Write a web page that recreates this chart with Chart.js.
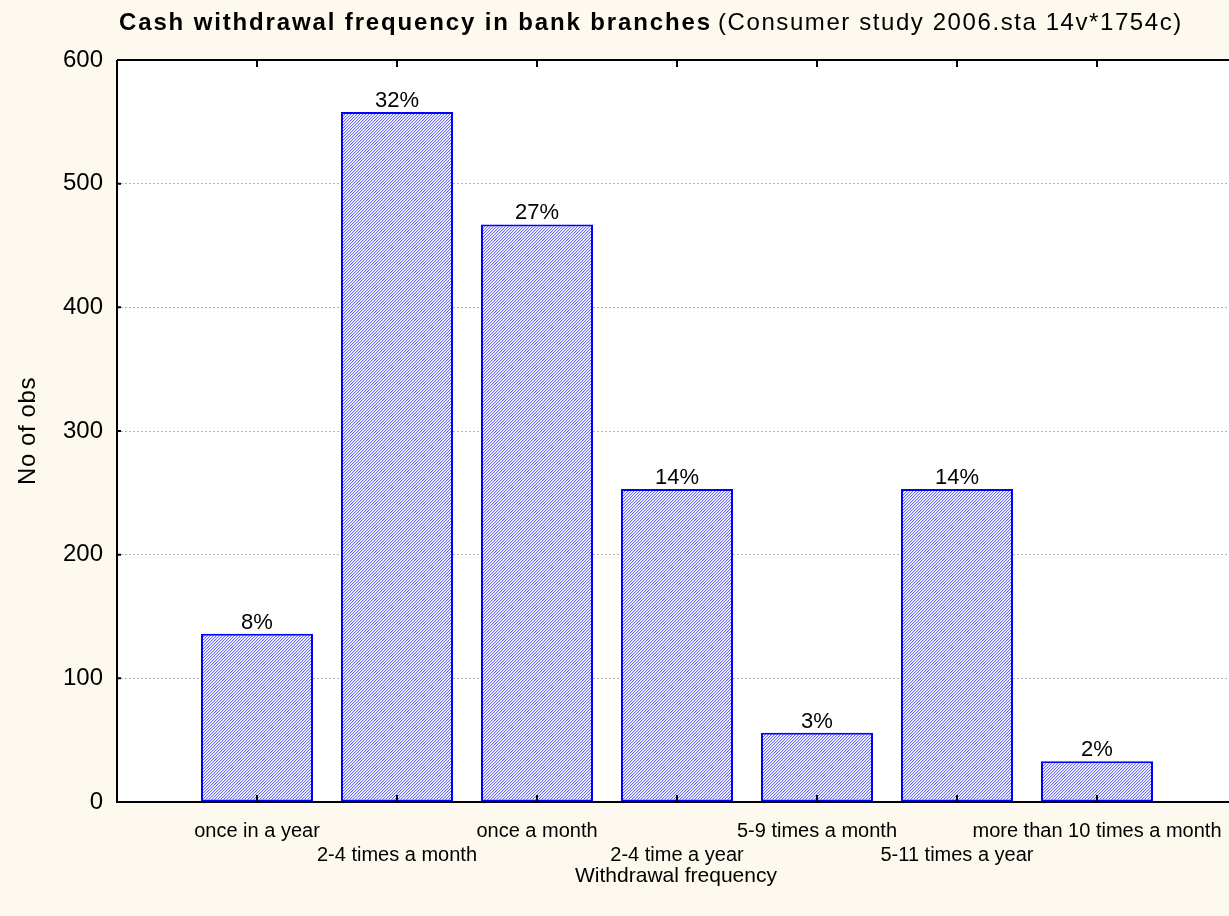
<!DOCTYPE html>
<html>
<head>
<meta charset="utf-8">
<script src="https://cdn.jsdelivr.net/npm/chart.js@4.4.0/dist/chart.umd.min.js"></script>
<style>
  html, body { margin: 0; padding: 0; overflow: hidden; background: #fdf9ee; }
  #wrap { position: absolute; left: 0; top: 0; }
</style>
</head>
<body>
<div id="wrap"><canvas id="freqChart" width="1240" height="916"></canvas></div>
<script>
// Chart data
const categories = ['once in a year', '2-4 times a month', 'once a month', '2-4 time a year',
    '5-9 times a month', '5-11 times a year', 'more than 10 times a month'];
const counts = [136, 558, 467, 253, 56, 253, 33];
const percentLabels = ['8%', '32%', '27%', '14%', '3%', '14%', '2%'];
const yTicks = [0, 100, 200, 300, 400, 500, 600];

const titleBold = 'Cash withdrawal frequency in bank branches';
const titleNormal = '(Consumer study 2006.sta 14v*1754c)';
const xTitle = 'Withdrawal frequency';
const yTitle = 'No of obs';

const FONT = '"Liberation Sans", Arial, sans-serif';

// Diagonal hatch used for the bars
function makeHatch() {
    const c = document.createElement('canvas');
    c.width = 3;
    c.height = 3;
    const g = c.getContext('2d');
    g.fillStyle = '#ffffff';
    g.fillRect(0, 0, 3, 3);
    g.fillStyle = '#6a6aff';
    g.fillRect(2, 0, 1, 1);
    g.fillRect(1, 1, 1, 1);
    g.fillRect(0, 2, 1, 1);
    g.fillStyle = '#d6d6fa';
    g.fillRect(0, 0, 1, 1);
    g.fillRect(2, 1, 1, 1);
    g.fillRect(1, 2, 1, 1);
    return document.getElementById('freqChart').getContext('2d').createPattern(c, 'repeat');
}

// draw text stretched to a given width with letter spacing
function fillSpaced(ctx, text, x, y, width) {
    ctx.letterSpacing = '0px';
    const w = ctx.measureText(text).width;
    ctx.letterSpacing = ((width - w) / text.length).toFixed(2) + 'px';
    ctx.fillText(text, x, y);
    ctx.letterSpacing = '0px';
}

// Background, frame, ticks and text that Chart.js does not draw the way we want
const framePlugin = {
    id: 'frame',
    beforeDraw(chart) {
        const ctx = chart.ctx;
        const a = chart.chartArea;
        ctx.save();
        ctx.fillStyle = '#fdf9ee';
        ctx.fillRect(0, 0, chart.width, chart.height);
        ctx.fillStyle = '#ffffff';
        ctx.fillRect(a.left, a.top, a.right - a.left, a.bottom - a.top);
        ctx.restore();
    },
    afterDatasetsDraw(chart) {
        const ctx = chart.ctx;
        const meta = chart.getDatasetMeta(0);
        ctx.save();
        ctx.fillStyle = '#000';
        ctx.font = '22px ' + FONT;
        ctx.textAlign = 'center';
        ctx.textBaseline = 'alphabetic';
        meta.data.forEach((bar, i) => {
            ctx.fillText(percentLabels[i], bar.x, bar.y - 5);
        });
        ctx.restore();
    },
    afterDraw(chart) {
        const ctx = chart.ctx;
        const a = chart.chartArea;
        const xs = chart.scales.x;
        const ys = chart.scales.y;
        ctx.save();
        ctx.strokeStyle = '#000';
        ctx.lineWidth = 2;
        ctx.beginPath();
        ctx.moveTo(a.left, a.top);
        ctx.lineTo(a.right + 5, a.top);
        ctx.moveTo(a.left, a.top);
        ctx.lineTo(a.left, a.bottom);
        ctx.lineTo(a.right + 5, a.bottom);
        ctx.stroke();

        // inward ticks
        ctx.beginPath();
        categories.forEach((c, i) => {
            const px = Math.round(xs.getPixelForValue(i + 1));
            ctx.moveTo(px, a.bottom);
            ctx.lineTo(px, a.bottom - 7);
            ctx.moveTo(px, a.top);
            ctx.lineTo(px, a.top + 7);
        });
        yTicks.forEach(v => {
            const py = ys.getPixelForValue(v);
            ctx.moveTo(a.left, py);
            ctx.lineTo(a.left + 4, py);
        });
        ctx.stroke();

        // category labels, staggered over two rows
        ctx.fillStyle = '#000';
        ctx.font = '20px ' + FONT;
        ctx.textAlign = 'center';
        ctx.textBaseline = 'alphabetic';
        categories.forEach((c, i) => {
            const px = xs.getPixelForValue(i + 1);
            ctx.fillText(c, px, i % 2 === 0 ? a.bottom + 35 : a.bottom + 59);
        });

        // chart title: bold part then normal part
        ctx.textAlign = 'left';
        ctx.font = 'bold 24px ' + FONT;
        fillSpaced(ctx, titleBold, 119, 30, 593);
        ctx.font = '24px ' + FONT;
        fillSpaced(ctx, titleNormal, 718, 30, 465);

        // axis titles
        ctx.font = '21px ' + FONT;
        ctx.textAlign = 'center';
        ctx.fillText(xTitle, 676, 882);
        ctx.translate(28, 431);
        ctx.rotate(-Math.PI / 2);
        ctx.font = '24px ' + FONT;
        ctx.textAlign = 'left';
        ctx.textBaseline = 'middle';
        fillSpaced(ctx, yTitle, -54, 0, 108);
        ctx.restore();
    }
};

function createChart() {
    const ctx = document.getElementById('freqChart').getContext('2d');
    const hatch = makeHatch();

    new Chart(ctx, {
        type: 'bar',
        data: {
            datasets: [{
                data: counts.map((c, i) => ({ x: i + 1, y: c })),
                backgroundColor: hatch,
                borderColor: '#0000ff',
                borderWidth: 2,
                borderSkipped: false,
                barPercentage: 0.8,
                categoryPercentage: 1
            }]
        },
        options: {
            responsive: false,
            animation: false,
            layout: { padding: { top: 60, right: 3, left: 0, bottom: 0 } },
            plugins: {
                legend: { display: false },
                tooltip: { enabled: false }
            },
            scales: {
                x: {
                    type: 'linear',
                    offset: false,
                    min: 0,
                    max: 8,
                    afterFit: function (scale) {
                        scale.height = 114;
                    },
                    grid: { display: false, drawTicks: false },
                    border: { display: false },
                    ticks: { display: false }
                },
                y: {
                    min: 0,
                    max: 600,
                    afterBuildTicks: function (scale) {
                        scale.ticks = yTicks.map(v => ({ value: v }));
                    },
                    afterFit: function (scale) {
                        scale.width = 117;
                    },
                    grid: {
                        drawTicks: false,
                        lineWidth: 1,
                        color: function (context) {
                            const v = context.tick ? context.tick.value : 0;
                            return (v === 0 || v === 600) ? 'rgba(0,0,0,0)' : '#b4b4b4';
                        }
                    },
                    border: { display: false, dash: [2, 2] },
                    ticks: {
                        padding: 14,
                        color: '#000',
                        font: { family: FONT, size: 24 }
                    }
                }
            }
        },
        plugins: [framePlugin]
    });
}

document.addEventListener('DOMContentLoaded', function () {
    createChart();
});
</script>
</body>
</html>
